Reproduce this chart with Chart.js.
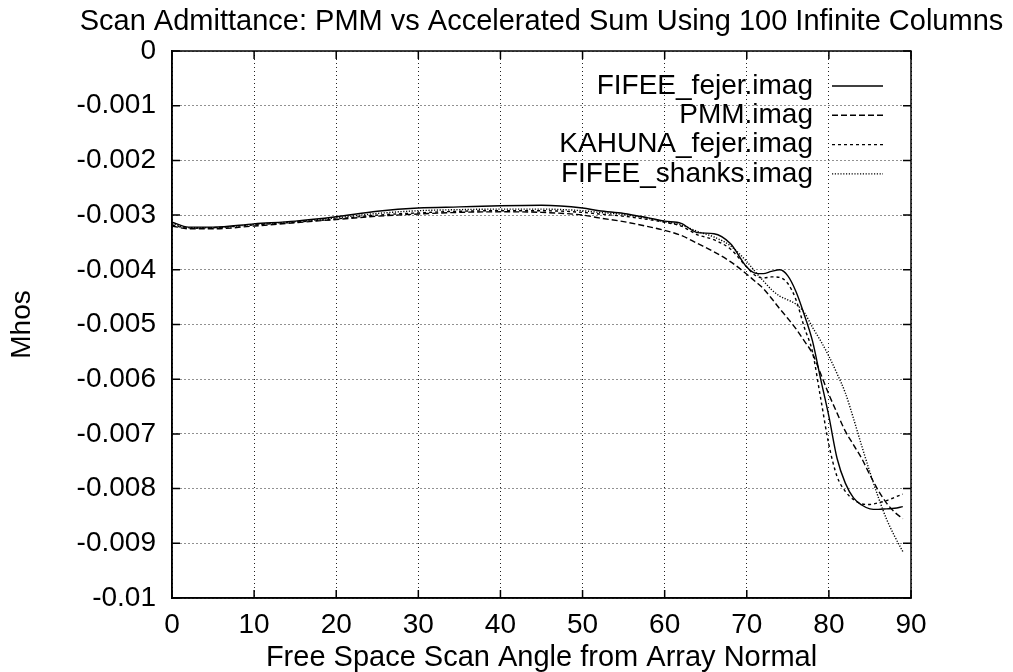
<!DOCTYPE html>
<html>
<head>
<meta charset="utf-8">
<script src="https://cdn.jsdelivr.net/npm/chart.js@4"></script>
<style>
  html, body { margin: 0; padding: 0; background: #fff; }
  #wrap { width: 1013px; height: 672px; }
</style>
</head>
<body>
<div id="wrap"><canvas id="myChart" width="1013" height="672"></canvas></div>
<script>
// angolo di scansione (gradi)
const angoli = [0, 2, 5, 10, 15, 20, 25, 30, 35, 40, 45, 50, 52, 55, 58, 60, 62, 64, 66, 68,
  70, 71, 72, 73, 74, 75, 76, 77, 78, 79, 80, 81, 82, 83, 84, 85, 86, 87, 88, 89];

// valori (Mhos)
const fifeeFejer = [-0.00313, -0.00322, -0.00322, -0.00316, -0.00311, -0.00303, -0.00293, -0.00287, -0.00285, -0.00283,
  -0.00282, -0.00287, -0.00292, -0.00297, -0.00305, -0.00311, -0.00315, -0.00332, -0.00334, -0.00352,
  -0.00395, -0.00406, -0.00407, -0.00403, -0.00400, -0.00411, -0.00440, -0.00482, -0.00530, -0.00600,
  -0.00668, -0.00745, -0.00790, -0.00817, -0.00830, -0.00837, -0.00838, -0.00837, -0.00836, -0.00833];

const pmm = [-0.00320, -0.00325, -0.00325, -0.00320, -0.00314, -0.00308, -0.00302, -0.00298, -0.00295, -0.00294,
  -0.00295, -0.00300, -0.00305, -0.00312, -0.00321, -0.00328, -0.00337, -0.00352, -0.00367, -0.00385,
  -0.00408, -0.00421, -0.00434, -0.00452, -0.00471, -0.00489, -0.00508, -0.00530, -0.00553, -0.00590,
  -0.00628, -0.00662, -0.00695, -0.00720, -0.00745, -0.00775, -0.00803, -0.00826, -0.00843, -0.00855];

const kahunaFejer = [-0.00318, -0.00324, -0.00323, -0.00318, -0.00313, -0.00307, -0.00300, -0.00296, -0.00293, -0.00292,
  -0.00292, -0.00295, -0.00298, -0.00302, -0.00308, -0.00313, -0.00320, -0.00336, -0.00345, -0.00362,
  -0.00395, -0.00410, -0.00415, -0.00413, -0.00414, -0.00425, -0.00455, -0.00505, -0.00550, -0.00635,
  -0.00720, -0.00778, -0.00805, -0.00820, -0.00828, -0.00829, -0.00826, -0.00822, -0.00816, -0.00810];

const fifeeShanks = [-0.00316, -0.00323, -0.00323, -0.00317, -0.00312, -0.00305, -0.00297, -0.00292, -0.00290, -0.00289,
  -0.00289, -0.00292, -0.00295, -0.00299, -0.00306, -0.00312, -0.00318, -0.00330, -0.00340, -0.00356,
  -0.00385, -0.00403, -0.00420, -0.00436, -0.00448, -0.00455, -0.00463, -0.00478, -0.00505, -0.00530,
  -0.00558, -0.00590, -0.00625, -0.00672, -0.00722, -0.00770, -0.00815, -0.00855, -0.00887, -0.00915];

const nomiSerie = ["FIFEE_fejer.imag", "PMM.imag", "KAHUNA_fejer.imag", "FIFEE_shanks.imag"];
const tratteggi = [[], [6, 3], [3, 3], [1.2, 1.6]];
const serie = [fifeeFejer, pmm, kahunaFejer, fifeeShanks];

const FONT = "'Liberation Sans', Arial, Helvetica, sans-serif";

// titolo, legenda e bordo in stile gnuplot
const gnuplotStyle = {
  id: "gnuplotStyle",
  afterDraw(chart) {
    const ctx = chart.ctx;
    const area = chart.chartArea;
    const xs = chart.scales.x;
    const ys = chart.scales.y;

    ctx.save();
    ctx.fillStyle = "#000";
    ctx.font = "29px " + FONT;
    ctx.textAlign = "center";
    ctx.textBaseline = "middle";
    ctx.fillText("Scan Admittance: PMM vs Accelerated Sum Using 100 Infinite Columns", (area.left + area.right) / 2, 22);

    // bordo
    ctx.strokeStyle = "#000";
    ctx.lineWidth = 1.5;
    ctx.setLineDash([]);
    ctx.strokeRect(area.left, area.top, area.right - area.left, area.bottom - area.top);

    // tacche su tutti i lati
    xs.ticks.forEach((t) => {
      const px = xs.getPixelForValue(t.value);
      ctx.beginPath();
      ctx.moveTo(px, area.bottom);
      ctx.lineTo(px, area.bottom - 8);
      ctx.moveTo(px, area.top);
      ctx.lineTo(px, area.top + 8);
      ctx.stroke();
    });
    ys.ticks.forEach((t) => {
      const py = ys.getPixelForValue(t.value);
      ctx.beginPath();
      ctx.moveTo(area.left, py);
      ctx.lineTo(area.left + 8, py);
      ctx.moveTo(area.right, py);
      ctx.lineTo(area.right - 8, py);
      ctx.stroke();
    });

    // legenda
    ctx.font = "28px " + FONT;
    ctx.textAlign = "right";
    nomiSerie.forEach((nome, i) => {
      const y = 86 + i * 29.3;
      ctx.fillText(nome, 813, y);
      ctx.beginPath();
      ctx.setLineDash(tratteggi[i]);
      ctx.lineWidth = 1.4;
      ctx.moveTo(832, y);
      ctx.lineTo(883, y);
      ctx.stroke();
    });
    ctx.restore();
  },
};

const datasets = serie.map((valori, i) => ({
  label: nomiSerie[i],
  data: angoli.map((a, k) => ({ x: a, y: valori[k] })),
  borderColor: "#000",
  borderWidth: 1.4,
  borderDash: tratteggi[i],
  pointRadius: 0,
  fill: false,
  cubicInterpolationMode: "monotone",
}));

const myChart = new Chart(document.getElementById("myChart"), {
  type: "line",
  data: { datasets: datasets },
  plugins: [gnuplotStyle],
  options: {
    responsive: false,
    animation: false,
    layout: { padding: { top: 51, right: 102, left: 0, bottom: 0 } },
    plugins: {
      legend: { display: false },
      title: { display: false },
      tooltip: { enabled: false },
    },
    scales: {
      x: {
        type: "linear",
        min: 0,
        max: 90,
        ticks: {
          stepSize: 10,
          color: "#000",
          padding: 10,
          font: { family: FONT, size: 28 },
        },
        grid: { color: "#222", lineWidth: 1, drawTicks: false },
        border: { display: true, color: "#000", width: 1.5, dash: [1, 3] },
        title: {
          display: true,
          text: "Free Space Scan Angle from Array Normal",
          color: "#000",
          font: { family: FONT, size: 29, lineHeight: 1 },
          padding: { top: 0, bottom: 0 },
        },
        afterFit(scale) {
          scale.height = 74;
        },
      },
      y: {
        min: -0.01,
        max: 0,
        ticks: {
          stepSize: 0.001,
          color: "#000",
          padding: 16,
          font: { family: FONT, size: 28 },
          callback: (v) => String(Number(v.toFixed(3))),
        },
        grid: { color: "#222", lineWidth: 1, drawTicks: false },
        border: { display: true, color: "#000", width: 1.5, dash: [1, 3] },
        title: {
          display: true,
          text: "Mhos",
          color: "#000",
          font: { family: FONT, size: 28, lineHeight: 1 },
          padding: { top: 8, bottom: 0 },
        },
        afterFit(scale) {
          scale.width = 172;
        },
      },
    },
  },
});
</script>
</body>
</html>
